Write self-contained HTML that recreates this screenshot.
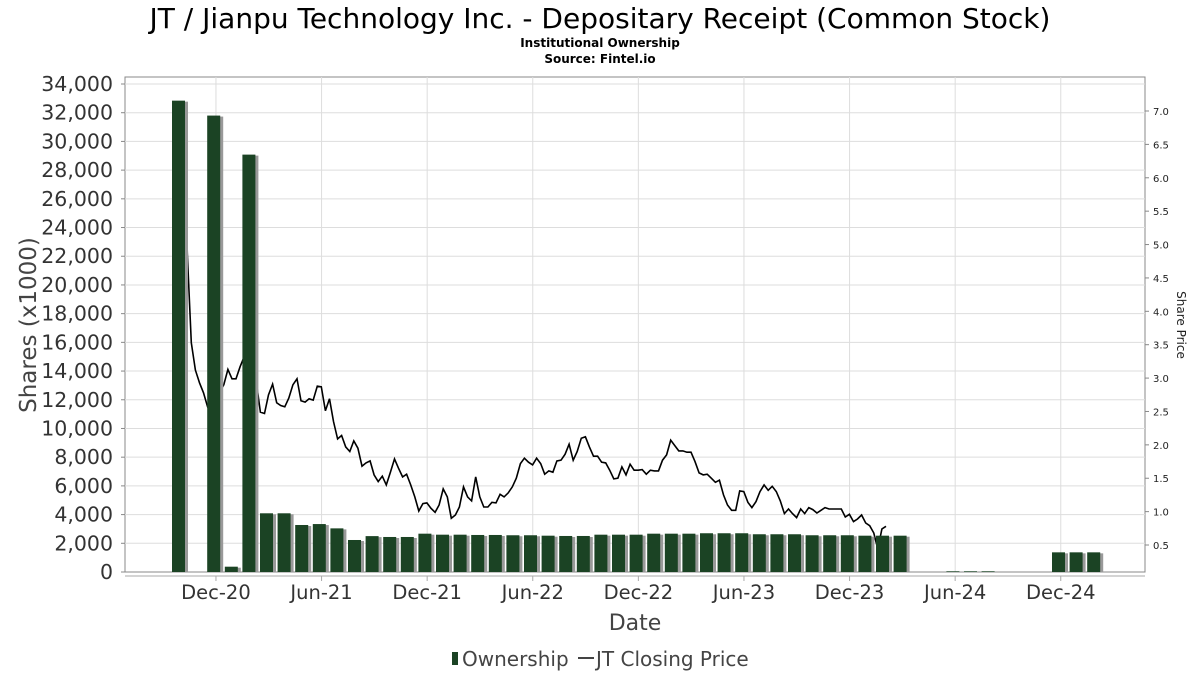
<!DOCTYPE html>
<html><head><meta charset="utf-8"><style>
body{margin:0;background:#fff;width:1200px;height:675px;overflow:hidden;font-family:"DejaVu Sans","Liberation Sans",sans-serif}
</style></head><body>
<svg id="c" width="1200" height="675" xmlns="http://www.w3.org/2000/svg">
<text x="600" y="28" text-anchor="middle" font-size="28" fill="#000">JT / Jianpu Technology Inc. - Depositary Receipt (Common Stock)</text>
<text x="600" y="47" text-anchor="middle" font-size="12" font-weight="bold" fill="#000">Institutional Ownership</text>
<text x="600" y="63" text-anchor="middle" font-size="12" font-weight="bold" fill="#000">Source: Fintel.io</text>
<g id="grid"></g><g id="line"></g><g id="bars"></g><g id="axes"></g>
<text transform="translate(36,325) rotate(-90)" text-anchor="middle" font-size="23" fill="#444">Shares (x1000)</text>
<text transform="translate(1177,325) rotate(90)" text-anchor="middle" font-size="12" fill="#222">Share Price</text>
<text x="635" y="630" text-anchor="middle" font-size="22" fill="#444">Date</text>
<g>
<rect x="452" y="652" width="6" height="13" fill="#1b4324"/>
<text x="462" y="666" font-size="20" fill="#444">Ownership</text>
<line x1="578" y1="658" x2="594" y2="658" stroke="#444" stroke-width="2"/>
<text x="596" y="666" font-size="20" fill="#444">JT Closing Price</text>
</g>
</svg>
<script>
const barMonths=[0,2,3,4,5,6,7,8,9,10,11,12,13,14,15,16,17,18,19,20,21,22,23,24,25,26,27,28,29,30,31,32,33,34,35,36,37,38,39,40,41,44,45,46,50,51,52];
const barValues=[32840,31800,370,29080,4090,4090,3275,3340,3040,2230,2500,2440,2440,2670,2600,2600,2580,2580,2560,2560,2530,2510,2510,2600,2600,2600,2670,2670,2670,2700,2700,2700,2630,2630,2630,2560,2560,2560,2530,2530,2530,50,50,50,1370,1370,1370];
const priceValues=[7.08,4.87,3.53,3.12,2.93,2.78,2.57,2.45,2.6,2.8,2.9,3.13,2.99,2.99,3.17,3.32,3.4,3.1,2.94,2.49,2.47,2.75,2.91,2.63,2.59,2.57,2.70,2.9,2.99,2.66,2.64,2.69,2.67,2.88,2.87,2.51,2.69,2.35,2.09,2.14,1.97,1.90,2.06,1.95,1.68,1.73,1.76,1.55,1.45,1.53,1.40,1.59,1.79,1.65,1.52,1.56,1.40,1.22,1.01,1.12,1.13,1.05,0.99,1.10,1.34,1.22,0.90,0.95,1.07,1.37,1.22,1.16,1.52,1.22,1.07,1.07,1.14,1.13,1.26,1.22,1.28,1.37,1.50,1.72,1.80,1.74,1.70,1.80,1.72,1.56,1.61,1.59,1.76,1.77,1.86,2.01,1.77,1.90,2.10,2.12,1.97,1.83,1.83,1.74,1.73,1.62,1.49,1.50,1.67,1.55,1.71,1.62,1.62,1.63,1.56,1.62,1.61,1.61,1.77,1.85,2.07,1.99,1.91,1.91,1.89,1.89,1.75,1.58,1.55,1.56,1.50,1.44,1.47,1.25,1.10,1.02,1.02,1.31,1.30,1.14,1.06,1.15,1.30,1.40,1.32,1.38,1.30,1.16,0.97,1.04,0.97,0.91,1.04,0.97,1.06,1.03,0.98,1.02,1.06,1.04,1.04,1.04,1.04,0.92,0.96,0.85,0.89,0.95,0.83,0.79,0.68,0.44,0.74,0.78];
const leftTicks=[0,2000,4000,6000,8000,10000,12000,14000,16000,18000,20000,22000,24000,26000,28000,30000,32000,34000];
const rightTicks=[0.5,1.0,1.5,2.0,2.5,3.0,3.5,4.0,4.5,5.0,5.5,6.0,6.5,7.0];
const dateLabels=["Dec-20","Jun-21","Dec-21","Jun-22","Dec-22","Jun-23","Dec-23","Jun-24","Dec-24"];
const dateMonths=[2.1,8.1,14.1,20.1,26.1,32.1,38.1,44.1,50.1];
const priceStartMonth=0.24, priceStepMonths=0.2308;
const L=125,R=1145,T=77,B=572;
const xM=m=>179+m*17.6;
const yL=v=>B-v*(488/34000);
const yR=v=>578.4-v*66.77;
const NS="http://www.w3.org/2000/svg";
function mk(t,a,p){const e=document.createElementNS(NS,t);for(const k in a)e.setAttribute(k,a[k]);p.appendChild(e);return e;}
const grid=document.getElementById('grid'),axes=document.getElementById('axes'),bars=document.getElementById('bars'),line=document.getElementById('line');
mk('rect',{x:L,y:T,width:R-L,height:B-T,fill:'#fff',stroke:'#888','stroke-width':1},grid);
leftTicks.forEach(v=>{const y=yL(v);
 if(v>0){const g=mk('line',{x1:L,x2:R,y1:y,y2:y,stroke:'#ddd'},grid);
 
 }
 mk('line',{x1:L-4,x2:L,y1:y,y2:y,stroke:'#888'},axes);
 const t=mk('text',{x:L-12,y:y+7,'text-anchor':'end','font-size':20.5,fill:'#333'},axes);t.textContent=v.toLocaleString('en-US');
 
 });
rightTicks.forEach(v=>{const y=yR(v);
 mk('line',{x1:R,x2:R+4,y1:y,y2:y,stroke:'#888'},axes);
 const t=mk('text',{x:R+8,y:y+4,'font-size':10,fill:'#222'},axes);t.textContent=v.toFixed(1);
 
 });
mk('line',{x1:L,x2:R,y1:B+4,y2:B+4,stroke:'#aaa'},axes);
dateLabels.forEach((d,i)=>{const x=xM(dateMonths[i]);
 const g=mk('line',{x1:x,x2:x,y1:T,y2:B,stroke:'#ddd'},grid);
 
 
 mk('line',{x1:x,x2:x,y1:B+4,y2:B+9,stroke:'#aaa'},axes);
 const t=mk('text',{x:x,y:B+27,'text-anchor':'middle','font-size':19.5,fill:'#333'},axes);t.textContent=d;
 
 });
const pts=priceValues.map((v,i)=>xM(priceStartMonth+i*priceStepMonths).toFixed(1)+','+yR(v).toFixed(1)).join(' ');
const pl=mk('polyline',{points:pts,fill:'none',stroke:'#000','stroke-width':1.6},line);


barMonths.forEach((m,i)=>{const x=xM(m),y=yL(barValues[i]),h=B-y;
 mk('rect',{x:x-4,y:y+1,width:13,height:h-1,fill:'#999'},bars);
 const r=mk('rect',{x:x-7,y:y,width:13,height:h,fill:'#1b4324'},bars);
 
 });
</script>
</body></html>
